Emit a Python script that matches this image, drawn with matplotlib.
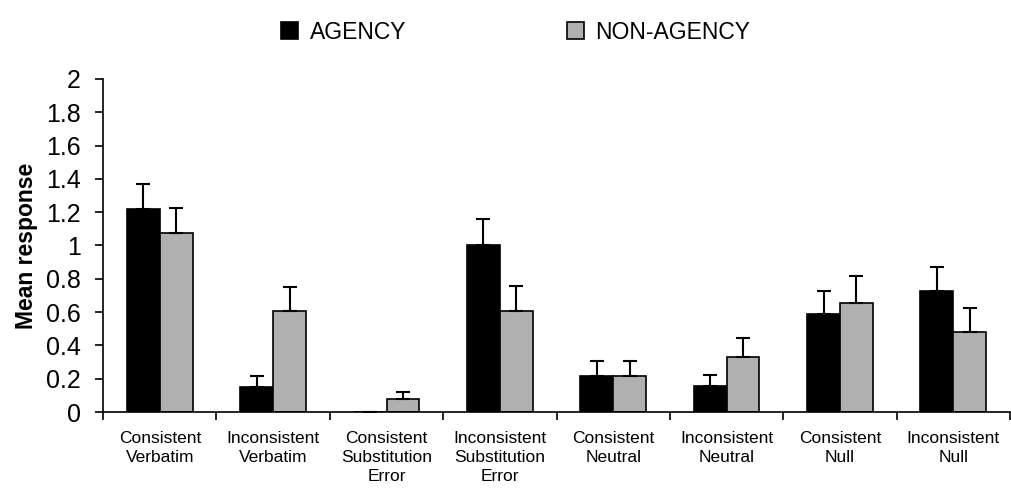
import numpy as np
import matplotlib.pyplot as plt

plt.rcParams['font.family'] = ['Liberation Sans', 'DejaVu Sans']

categories = ['Consistent\nVerbatim', 'Inconsistent\nVerbatim',
              'Consistent\nSubstitution\nError', 'Inconsistent\nSubstitution\nError',
              'Consistent\nNeutral', 'Inconsistent\nNeutral',
              'Consistent\nNull', 'Inconsistent\nNull']
agency = [1.22, 0.15, 0.0, 1.0, 0.215, 0.155, 0.59, 0.725]
agency_err = [0.15, 0.065, 0.0, 0.16, 0.09, 0.065, 0.135, 0.145]
non_agency = [1.075, 0.605, 0.078, 0.607, 0.215, 0.33, 0.655, 0.48]
non_agency_err = [0.15, 0.145, 0.045, 0.15, 0.09, 0.115, 0.16, 0.145]

fig = plt.figure(figsize=(10.11, 5.0), dpi=100)
ax = fig.add_axes([0.102, 0.176, 0.897, 0.666])

x = np.arange(len(categories)) + 0.5
w = 0.29
ax.bar(x - w / 2, agency, w, color='black', edgecolor='black', linewidth=1.2,
       label='AGENCY')
ax.bar(x + w / 2, non_agency, w, color='#b0b0b0', edgecolor='black', linewidth=1.2,
       label='NON-AGENCY')
ax.errorbar(x - w / 2, agency, yerr=[np.zeros(len(agency)), agency_err],
            fmt='none', ecolor='black', elinewidth=1.5, capsize=5, capthick=1.5)
ax.errorbar(x + w / 2, non_agency, yerr=[np.zeros(len(non_agency)), non_agency_err],
            fmt='none', ecolor='black', elinewidth=1.5, capsize=5, capthick=1.5)

ax.set_xlim(0, 8)
ax.set_ylim(0, 2)
ax.set_yticks(np.arange(0, 2.01, 0.2))
ax.set_yticklabels(['0', '0.2', '0.4', '0.6', '0.8', '1', '1.2', '1.4', '1.6', '1.8', '2'])
ax.set_xticks(x)
ax.set_xticklabels(categories, fontsize=12.5, linespacing=1.3)
ax.set_xticks(np.arange(0, 9), minor=True)
ax.tick_params(axis='x', which='major', length=0, pad=14)
ax.tick_params(axis='x', which='minor', length=6, width=1.2, direction='out')
ax.tick_params(axis='y', labelsize=18, length=6, width=1.2, direction='out', pad=10)
ax.spines['right'].set_visible(False)
ax.spines['top'].set_visible(False)
ax.spines['left'].set_linewidth(1.2)
ax.spines['bottom'].set_linewidth(1.2)
ax.set_ylabel('Mean response', fontsize=16.5, fontweight='bold', labelpad=6)

fig.legend(loc='upper center', bbox_to_anchor=(0.51, 1.0), ncol=2, frameon=False,
           fontsize=16.5, handlelength=0.75, handleheight=0.75, handletextpad=0.5,
           columnspacing=7)

fig.savefig('out.png', dpi=100)
